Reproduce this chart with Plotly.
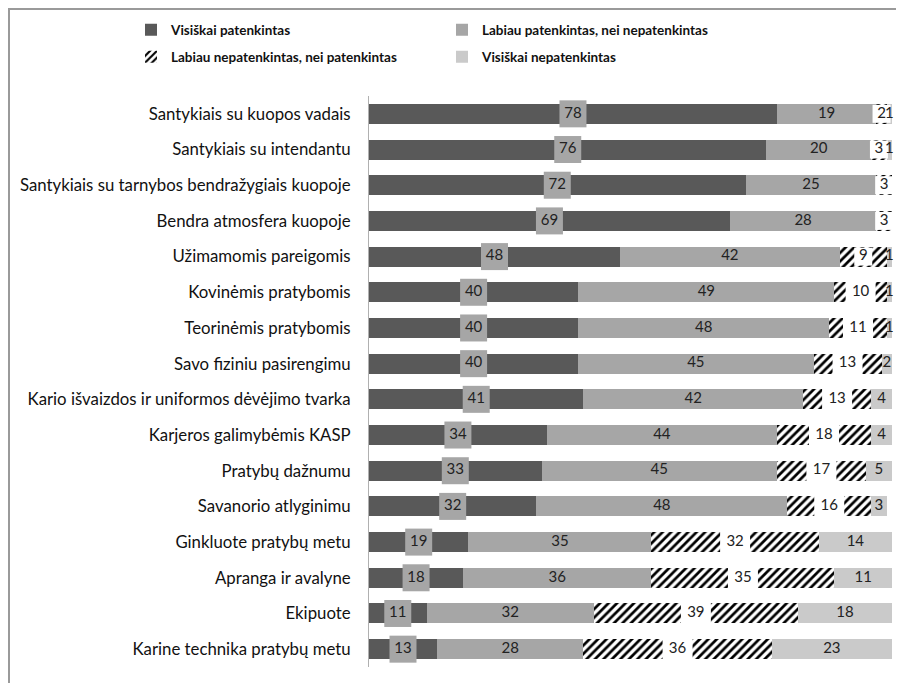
import numpy as np
import plotly.graph_objects as go

categories = [
    "Santykiais su kuopos vadais",
    "Santykiais su intendantu",
    "Santykiais su tarnybos bendražygiais kuopoje",
    "Bendra atmosfera kuopoje",
    "Užimamomis pareigomis",
    "Kovinėmis pratybomis",
    "Teorinėmis pratybomis",
    "Savo fiziniu pasirengimu",
    "Kario išvaizdos ir uniformos dėvėjimo tvarka",
    "Karjeros galimybėmis KASP",
    "Pratybų dažnumu",
    "Savanorio atlyginimu",
    "Ginkluote pratybų metu",
    "Apranga ir avalyne",
    "Ekipuote",
    "Karine technika pratybų metu",
]

series_names = [
    "Visiškai patenkintas",
    "Labiau patenkintas, nei nepatenkintas",
    "Labiau nepatenkintas, nei patenkintas",
    "Visiškai nepatenkintas",
]

visiskai_patenkintas = [78, 76, 72, 69, 48, 40, 40, 40, 41, 34, 33, 32, 19, 18, 11, 13]
labiau_patenkintas = [19, 20, 25, 28, 42, 49, 48, 45, 42, 44, 45, 48, 35, 36, 32, 28]
labiau_nepatenkintas = [2, 3, 3, 3, 9, 10, 11, 13, 13, 18, 17, 16, 32, 35, 39, 36]
visiskai_nepatenkintas = [1, 1, 0, 0, 1, 1, 1, 2, 4, 4, 5, 3, 14, 11, 18, 23]

series_values = [visiskai_patenkintas, labiau_patenkintas,
                 labiau_nepatenkintas, visiskai_nepatenkintas]

# styles (the page body adds an 8px offset, compensated in the margins)
W, H = 904, 683
ML, MR, MT, MB = 361, 20, 88, 24
FONT = "Lato"
bar_colors = ["#595959", "#a6a6a6", "#ffffff", "#cacaca"]
legend_ids = ["legend", "legend", "legend2", "legend2"]

fig = go.Figure()

for i, (name, vals) in enumerate(zip(series_names, series_values)):
    marker = dict(color=bar_colors[i], line=dict(width=0))
    if i == 2:
        marker["pattern"] = dict(shape="/", fgcolor="#000000", bgcolor="#ffffff",
                                 size=6, solidity=0.45, fillmode="replace")
    fig.add_trace(go.Bar(
        name=name, y=categories, x=vals, orientation="h",
        marker=marker, hoverinfo="skip", legend=legend_ids[i],
    ))

# data labels, positioned at segment centres computed from the data
arr = np.array(series_values, dtype=float)
starts = np.vstack([np.zeros(arr.shape[1]), np.cumsum(arr, axis=0)[:-1]])
centres = starts + arr / 2.0

label_styles = [
    dict(box=True, color="#a6a6a6", size2=27, size1=20),
    dict(box=False),
    dict(box=True, color="#ffffff", size2=30, size1=18),
    dict(box=False),
]

for i, vals in enumerate(series_values):
    xs, ys, txt, sizes = [], [], [], []
    st = label_styles[i]
    for j, v in enumerate(vals):
        if v == 0:
            continue
        xs.append(centres[i, j])
        ys.append(categories[j])
        txt.append(str(v))
        if st["box"]:
            sizes.append(st["size2"] if v >= 10 else st["size1"])
    if st["box"]:
        fig.add_trace(go.Scatter(
            x=xs, y=ys, text=txt, mode="markers+text",
            marker=dict(symbol="square", size=sizes, color=st["color"],
                        opacity=1, line=dict(width=0)),
            textposition="middle center",
            textfont=dict(family=FONT, size=15, color="#222222"),
            showlegend=False, hoverinfo="skip", cliponaxis=False,
        ))
    else:
        fig.add_trace(go.Scatter(
            x=xs, y=ys, text=txt, mode="text",
            textposition="middle center",
            textfont=dict(family=FONT, size=15, color="#222222"),
            showlegend=False, hoverinfo="skip", cliponaxis=False,
        ))

pw = W - ML - MR
ph = H - MT - MB

def px_to_paper_x(px):
    return (px - ML) / pw

def px_to_paper_y(py):
    return 1 - (py - MT) / ph

legend_common = dict(
    orientation="h",
    xref="paper", yref="paper",
    xanchor="left", yanchor="middle",
    entrywidth=266, entrywidthmode="pixels",
    itemwidth=30,
    font=dict(family=FONT, size=13.5, color="#111111", weight="bold"),
    traceorder="normal",
    bgcolor="rgba(0,0,0,0)",
)

fig.update_layout(
    width=W, height=H,
    margin=dict(l=ML, r=MR, t=MT, b=MB, pad=0, autoexpand=False),
    barmode="stack",
    bargap=0.44,
    paper_bgcolor="white",
    plot_bgcolor="white",
    font=dict(family=FONT, color="#111111"),
    showlegend=True,
    legend=dict(legend_common, x=px_to_paper_x(123), y=px_to_paper_y(22)),
    legend2=dict(legend_common, x=px_to_paper_x(123), y=px_to_paper_y(49)),
    xaxis=dict(range=[0, 100], showgrid=False, zeroline=False,
               showticklabels=False, ticks="", showline=False, fixedrange=True),
    yaxis=dict(type="category", categoryorder="array", categoryarray=categories,
               range=[len(categories) - 0.5, -0.5],
               showgrid=False, zeroline=False, ticks="",
               showline=True, linecolor="#b0b0b0", linewidth=1,
               ticklabelstandoff=14,
               tickfont=dict(family=FONT, size=16.8, color="#111111"),
               fixedrange=True),
    shapes=[
        dict(type="line", xref="paper", yref="paper",
             x0=px_to_paper_x(0), x1=px_to_paper_x(W),
             y0=px_to_paper_y(1), y1=px_to_paper_y(1),
             line=dict(color="#9a9a9a", width=2)),
        dict(type="line", xref="paper", yref="paper",
             x0=px_to_paper_x(1), x1=px_to_paper_x(1),
             y0=px_to_paper_y(0), y1=px_to_paper_y(H),
             line=dict(color="#9a9a9a", width=2)),
    ],
)

fig.write_html("out.html")
